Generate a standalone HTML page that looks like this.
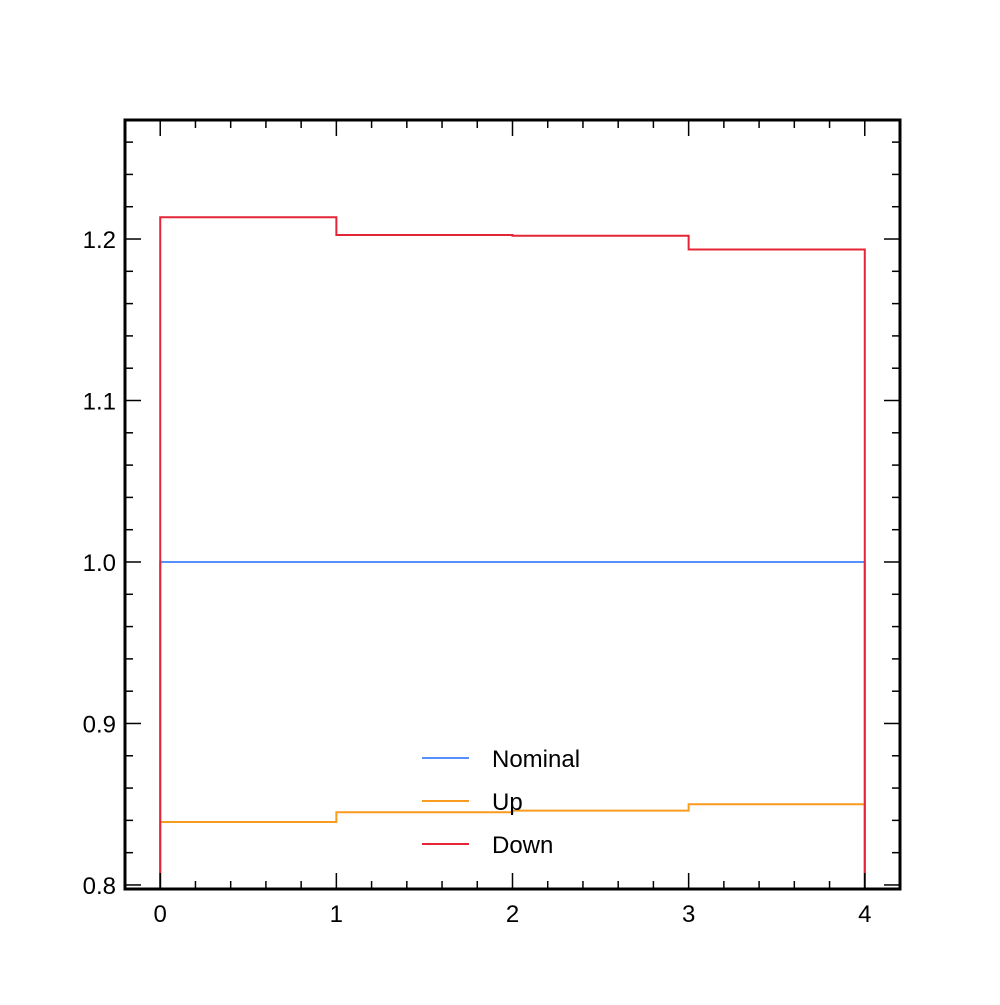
<!DOCTYPE html>
<html><head><meta charset="utf-8"><style>
body{margin:0;background:#fff}
svg text{font-family:"Liberation Sans",Arial,sans-serif;font-size:24px;fill:#000}
</style></head><body>
<svg id="chart" width="1000" height="1000">
<g id="marks"></g><g id="axes"></g>
</svg>
<script>
const edges=[0,1,2,3,4];
const nominal=[1.0,1.0,1.0,1.0];
const up=[0.839,0.845,0.846,0.850];
const down=[1.2135,1.2025,1.202,1.1935];
const seriesNames=["Nominal","Up","Down"];
const xTicks=[0,1,2,3,4];
const yTicks=[0.8,0.9,1.0,1.1,1.2];
const yTickLabels=["0.8","0.9","1.0","1.1","1.2"];

const L=125,R=900,T=120,B=889;
const xMin=-0.2,xMax=4.2,yMin=0.7975,yMax=1.2737;
const X=v=>L+(v-xMin)/(xMax-xMin)*(R-L);
const Y=v=>B-(v-yMin)/(yMax-yMin)*(B-T);
const NS="http://www.w3.org/2000/svg";
const marks=document.getElementById('marks'),axes=document.getElementById('axes');
function mk(tag,attrs,parent){const e=document.createElementNS(NS,tag);for(const k in attrs)e.setAttribute(k,attrs[k]);parent.appendChild(e);return e;}

function step(vals,color,name){
  let d=`M${X(edges[0])},${B}`;
  vals.forEach((v,i)=>{d+=` L${X(edges[i])},${Y(v)} L${X(edges[i+1])},${Y(v)}`;});
  d+=` L${X(edges[edges.length-1])},${B}`;
  const p=mk('path',{d:d,fill:'none',stroke:color,'stroke-width':2},marks);
  
  
}
step(nominal,'#5790fc','series-nominal');
step(up,'#f89c20','series-up');
step(down,'#e42536','series-down');

// frame
const fr=mk('rect',{x:L,y:T,width:R-L,height:B-T,fill:'none',stroke:'#000','stroke-width':3},axes);


// x ticks
for(let v=-0.2;v<=4.2001;v+=0.2){
  const vv=Math.round(v*10)/10;const major=Math.abs(vv-Math.round(vv))<1e-6;const len=major?16:8;const x=X(vv);
  mk('line',{x1:x,y1:B,x2:x,y2:B-len,stroke:'#000','stroke-width':1.5},axes);
  mk('line',{x1:x,y1:T,x2:x,y2:T+len,stroke:'#000','stroke-width':1.5},axes);
}
xTicks.forEach(v=>{const t=mk('text',{x:X(v),y:B+33,'text-anchor':'middle'},axes);t.textContent=v;
  
  });
// y ticks
for(let i=0;i<=24;i++){
  const v=0.8+i*0.02;if(v>yMax)break;const major=i%5===0;const len=major?16:8;const y=Y(v);
  mk('line',{x1:L,y1:y,x2:L+len,y2:y,stroke:'#000','stroke-width':1.5},axes);
  mk('line',{x1:R,y1:y,x2:R-len,y2:y,stroke:'#000','stroke-width':1.5},axes);
}
yTicks.forEach((v,i)=>{const t=mk('text',{x:L-9,y:Y(v)+9,'text-anchor':'end'},axes);t.textContent=yTickLabels[i];
  
  });
// legend
const colors=['#5790fc','#f89c20','#e42536'];
seriesNames.forEach((n,i)=>{const y=758+i*43;
  const g=mk('g',{},axes);
  
  
  mk('line',{x1:422,y1:y,x2:469,y2:y,stroke:colors[i],'stroke-width':2},g);
  const t=mk('text',{x:492,y:y+9},g);t.textContent=n;});
</script>
</body></html>
